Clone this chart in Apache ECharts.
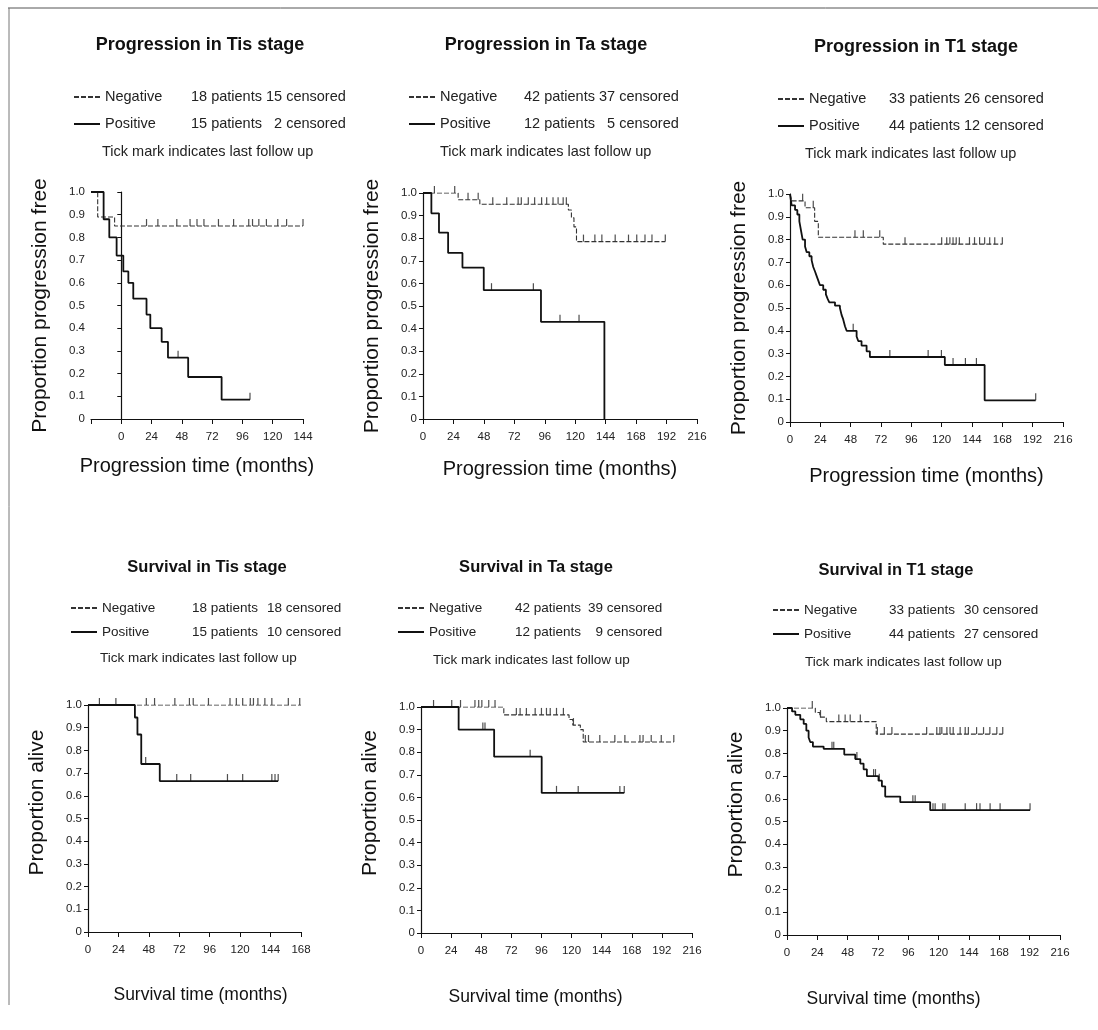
<!DOCTYPE html>
<html>
<head>
<meta charset="utf-8">
<script src="https://cdn.jsdelivr.net/npm/echarts@6/dist/echarts.min.js"></script>
<style>
  html, body { margin: 0; background: #fff; }
  #chart { width: 1098px; height: 1030px; }
</style>
</head>
<body>
<div id="chart"></div>
<script>
// ---- data ----
// Kaplan-Meier steps: [months, proportion]; censored: months of last follow up

// Progression, Tis (printed axis starts one tick before 0)
const tisProgRange = [-24, 144];
const tisProgNeg = [[-24, 1], [-18.7, 0.89], [-5.3, 0.85], [144, 0.85]];
const tisProgNegCens = [20, 29, 44, 54.5, 60, 65.5, 77, 89, 101, 104, 109, 115, 124, 131, 144];
const tisProgPos = [[-24, 1], [-14, 0.88], [-9.5, 0.8], [-3.7, 0.72], [1.6, 0.65], [5.6, 0.6], [9.5, 0.53],
  [20, 0.46], [23, 0.4], [32, 0.34], [37, 0.27], [53, 0.185], [79.5, 0.085], [102, 0.085]];
const tisProgPosCens = [45, 102];
const tisProgLegend = [['Negative', '18 patients', '15 censored'], ['Positive', '15 patients', '\u20072 censored']];

// Progression, Ta
const taProgRange = [0, 216];
const taProgNeg = [[0, 1], [27.7, 0.97], [44.8, 0.95], [114.6, 0.925], [117, 0.89], [119, 0.85], [121, 0.785], [191, 0.785]];
const taProgNegCens = [9, 25, 35.5, 43.5, 55, 66, 75, 77.5, 83, 88, 93.5, 97.5, 102.5, 106.5, 110.5, 113,
  126.5, 135.5, 141, 151.5, 162, 168.5, 175, 180.5, 191];
const taProgPos = [[0, 1], [6.6, 0.91], [12.6, 0.825], [19.8, 0.735], [31.1, 0.67], [47.9, 0.57], [93, 0.43], [143, 0]];
const taProgPosCens = [54, 87, 108, 123];
const taProgLegend = [['Negative', '42 patients', '37 censored'], ['Positive', '12 patients', '\u20075 censored']];

// Progression, T1
const t1ProgRange = [0, 216];
const t1ProgNeg = [[0, 1], [1.3, 0.97], [11.9, 0.94], [19.5, 0.88], [22.4, 0.81], [73.8, 0.78], [168, 0.78]];
const t1ProgNegCens = [10, 18.4, 51.4, 58, 71, 91, 120, 124, 126.5, 129, 131.5, 134, 142, 146, 150, 154, 158, 162, 168];
const t1ProgPos = [[0, 1], [1.3, 0.95], [4, 0.93], [5.8, 0.91], [7.4, 0.88], [8.7, 0.84], [10, 0.8], [11.9, 0.77],
  [13.2, 0.745], [15.3, 0.727], [17.1, 0.71], [18.4, 0.68], [19.8, 0.66], [21.1, 0.64], [22.4, 0.62], [23.7, 0.6],
  [26.3, 0.58], [28.4, 0.56], [29.8, 0.54], [31.1, 0.525], [35.6, 0.51], [39.5, 0.5], [40.8, 0.47], [42.1, 0.45],
  [43.5, 0.42], [44.8, 0.4], [52.7, 0.375], [54, 0.355], [56.6, 0.335], [60.6, 0.31], [63.2, 0.285],
  [122.5, 0.25], [154, 0.095], [194.4, 0.095]];
const t1ProgPosCens = [50, 79, 109.3, 119.8, 129, 138.8, 147.5, 194.4];
const t1ProgLegend = [['Negative', '33 patients', '26 censored'], ['Positive', '44 patients', '12 censored']];

// Survival, Tis
const tisSurvRange = [0, 168];
const tisSurvNeg = [[0, 1], [168, 1]];
const tisSurvNegCens = [9, 22, 46, 52.5, 68.5, 80, 83, 95, 112, 117, 122, 128, 130.5, 134, 139.5, 145, 158, 167];
const tisSurvPos = [[0, 1], [37, 0.945], [39, 0.87], [42, 0.74], [56.6, 0.665], [150, 0.665]];
const tisSurvPosCens = [45.5, 70, 81, 110, 122, 145, 147.5, 150];
const tisSurvLegend = [['Negative', '18 patients', '18 censored'], ['Positive', '15 patients', '10 censored']];

// Survival, Ta
const taSurvRange = [0, 216];
const taSurvNeg = [[0, 1], [66, 0.965], [118, 0.945], [121, 0.92], [127, 0.9], [129.3, 0.845], [201.5, 0.845]];
const taSurvNegCens = [10, 24.5, 31.5, 43, 46, 48.5, 54, 59, 76, 79, 84, 91, 96, 100, 103, 108, 113.5, 121.5,
  131, 133.5, 142.5, 154.5, 162.5, 174.5, 177, 183.5, 191.5, 201.5];
const taSurvPos = [[0, 1], [30, 0.9], [58.3, 0.78], [96.2, 0.62], [162, 0.62]];
const taSurvPosCens = [49.3, 51, 87, 108, 125.3, 158.5, 162];
const taSurvLegend = [['Negative', '42 patients', '39 censored'], ['Positive', '12 patients', '\u20079 censored']];

// Survival, T1
const t1SurvRange = [0, 216];
const t1SurvNeg = [[0, 1], [22.4, 0.98], [26, 0.96], [31.1, 0.94], [70.6, 0.885], [170.7, 0.885]];
const t1SurvNegCens = [20, 26.5, 41, 46, 50, 58, 71.5, 77, 83, 110.5, 118.5, 121, 122.5, 126.5, 129, 131.5,
  137, 141, 143.5, 150, 155.5, 160.5, 166, 170.7];
const t1SurvPos = [[0, 1], [4, 0.985], [6.6, 0.97], [10.5, 0.95], [13.2, 0.93], [15.3, 0.9], [17.1, 0.87],
  [18.4, 0.85], [20.5, 0.83], [29, 0.82], [45.3, 0.795], [54, 0.775], [58, 0.755], [60.6, 0.73], [63.2, 0.7],
  [72.4, 0.68], [75.1, 0.655], [77.7, 0.61], [89.6, 0.585], [113.3, 0.55], [192.3, 0.55]];
const t1SurvPosCens = [35.6, 37, 55.3, 68.5, 70, 73, 99.6, 101.4, 115.5, 117.2, 123.3, 125, 141, 150, 152.7,
  160.7, 168.6, 192.3];
const t1SurvLegend = [['Negative', '33 patients', '30 censored'], ['Positive', '44 patients', '27 censored']];

const yTickStep = 0.1;
const xTickStep = 24;

// ---- layout ----
const FONT = '"Liberation Sans", Arial, sans-serif';

// top row uses the larger type, the survival row is set smaller/condensed in the scan
const panels = [
  { id: 'tisProg', title: 'Progression in Tis stage', range: tisProgRange, neg: tisProgNeg, negCens: tisProgNegCens,
    pos: tisProgPos, posCens: tisProgPosCens, legend: tisProgLegend,
    grid: [91, 192, 212, 227], titleAt: [200, 36], legendAt: [73, 89], cols: [86, 75], tickAt: [102, 144],
    yName: 'Proportion progression free', xName: 'Progression time (months)', xGap: 37, xPad: 0, yPad: 0,
    titleSize: 18, textSize: 14.5, xNameSize: 20 },
  { id: 'taProg', title: 'Progression in Ta stage', range: taProgRange, neg: taProgNeg, negCens: taProgNegCens,
    pos: taProgPos, posCens: taProgPosCens, legend: taProgLegend,
    grid: [423, 193, 274, 226], titleAt: [546, 36], legendAt: [408, 89], cols: [84, 75], tickAt: [440, 144],
    yName: 'Proportion progression free', xName: 'Progression time (months)', xGap: 40, xPad: 0, yPad: 0,
    titleSize: 18, textSize: 14.5, xNameSize: 20 },
  { id: 't1Prog', title: 'Progression in T1 stage', range: t1ProgRange, neg: t1ProgNeg, negCens: t1ProgNegCens,
    pos: t1ProgPos, posCens: t1ProgPosCens, legend: t1ProgLegend,
    grid: [790, 194, 273, 228], titleAt: [916, 38], legendAt: [777, 91], cols: [80, 75], tickAt: [805, 146],
    yName: 'Proportion progression free', xName: 'Progression time (months)', xGap: 44, xPad: 0, yPad: 0,
    titleSize: 18, textSize: 14.5, xNameSize: 20 },
  { id: 'tisSurv', title: 'Survival in Tis stage', range: tisSurvRange, neg: tisSurvNeg, negCens: tisSurvNegCens,
    pos: tisSurvPos, posCens: tisSurvPosCens, legend: tisSurvLegend,
    grid: [88, 705, 213, 227], titleAt: [207, 559], legendAt: [70, 600], cols: [90, 75], tickAt: [100, 651],
    yName: 'Proportion alive', xName: 'Survival time (months)', xGap: 54, xPad: 12, yPad: 32,
    titleSize: 16.5, textSize: 13.5, xNameSize: 17.5 },
  { id: 'taSurv', title: 'Survival in Ta stage', range: taSurvRange, neg: taSurvNeg, negCens: taSurvNegCens,
    pos: taSurvPos, posCens: taSurvPosCens, legend: taSurvLegend,
    grid: [421, 707, 271, 226], titleAt: [536, 559], legendAt: [397, 600], cols: [86, 73], tickAt: [433, 653],
    yName: 'Proportion alive', xName: 'Survival time (months)', xGap: 55, xPad: -42, yPad: 34,
    titleSize: 16.5, textSize: 13.5, xNameSize: 17.5 },
  { id: 't1Surv', title: 'Survival in T1 stage', range: t1SurvRange, neg: t1SurvNeg, negCens: t1SurvNegCens,
    pos: t1SurvPos, posCens: t1SurvPosCens, legend: t1SurvLegend,
    grid: [787, 708, 273, 227], titleAt: [896, 562], legendAt: [772, 602], cols: [85, 75], tickAt: [805, 655],
    yName: 'Proportion alive', xName: 'Survival time (months)', xGap: 55, xPad: -60, yPad: 34,
    titleSize: 16.5, textSize: 13.5, xNameSize: 17.5 }
];

// proportion of a step curve at a given time (censor ticks sit on their curve)
function levelAt(curve, t) {
  let v = curve[0][1];
  for (const p of curve) { if (p[0] <= t) v = p[1]; }
  return v;
}

const grids = [], xAxes = [], yAxes = [], series = [], titles = [], legends = [];
const legendText = {};

panels.forEach((p, i) => {
  const [gl, gt, gw, gh] = p.grid;
  grids.push({ left: gl, top: gt, width: gw, height: gh });

  xAxes.push({
    gridIndex: i, type: 'value', min: p.range[0], max: p.range[1], interval: xTickStep,
    name: p.xName, nameLocation: 'middle', nameGap: p.xGap,
    nameTextStyle: {
      fontFamily: FONT, fontSize: p.xNameSize, color: '#111',
      padding: p.xPad >= 0 ? [0, 0, 0, p.xPad] : [0, -p.xPad, 0, 0]
    },
    axisLine: { lineStyle: { color: '#111', width: 1.2 } },
    axisTick: { length: 5, lineStyle: { color: '#111' } },
    axisLabel: {
      margin: 12, fontFamily: FONT, fontSize: 11.5, color: '#222',
      formatter: v => (v < 0 ? '' : String(v))
    },
    splitLine: { show: false }
  });

  yAxes.push({
    gridIndex: i, type: 'value', min: 0, max: 1, interval: yTickStep,
    name: p.yName, nameLocation: 'middle', nameGap: 40,
    nameTextStyle: { fontFamily: FONT, fontSize: 21, color: '#111', padding: [0, 0, 0, p.yPad] },
    axisLine: { lineStyle: { color: '#111', width: 1.2 } },
    axisTick: { length: 4, lineStyle: { color: '#111' } },
    axisLabel: {
      margin: 6, fontFamily: FONT, fontSize: 11.5, color: '#222',
      formatter: v => (v === 0 ? '0' : v.toFixed(1))
    },
    splitLine: { show: false }
  });

  const negName = p.id + ' Negative';
  const posName = p.id + ' Positive';
  legendText[negName] = p.legend[0];
  legendText[posName] = p.legend[1];

  series.push({
    type: 'line', name: negName, xAxisIndex: i, yAxisIndex: i, data: p.neg, step: 'end',
    symbol: 'none', silent: true,
    lineStyle: { color: '#333', width: 1.1, type: [5, 2] }, itemStyle: { color: '#333' }
  });
  series.push({
    type: 'line', name: posName, xAxisIndex: i, yAxisIndex: i, data: p.pos, step: 'end',
    symbol: 'none', silent: true,
    lineStyle: { color: '#111', width: 1.8 }, itemStyle: { color: '#111' }
  });
  [[p.negCens, p.neg], [p.posCens, p.pos]].forEach(([cens, curve]) => {
    series.push({
      type: 'scatter', xAxisIndex: i, yAxisIndex: i, silent: true,
      data: cens.map(t => [t, levelAt(curve, t)]),
      symbol: 'rect', symbolSize: [1.2, 7], symbolOffset: [0, -3.5],
      itemStyle: { color: '#222' }
    });
  });

  titles.push({
    text: p.title, left: p.titleAt[0], top: p.titleAt[1], padding: 0, textAlign: 'center',
    textStyle: { fontFamily: FONT, fontSize: p.titleSize, fontWeight: 'bold', color: '#111' }
  });
  titles.push({
    text: 'Tick mark indicates last follow up', left: p.tickAt[0], top: p.tickAt[1], padding: 0,
    textStyle: { fontFamily: FONT, fontSize: p.textSize, fontWeight: 'normal', color: '#222' }
  });

  legends.push({
    left: p.legendAt[0], top: p.legendAt[1], orient: 'vertical', padding: 0,
    itemWidth: 26, itemHeight: 16, itemGap: i < 3 ? 11 : 8, selectedMode: false,
    itemStyle: { opacity: 0 },
    data: [negName, posName],
    formatter: name => {
      const t = legendText[name];
      return '{a|' + t[0] + '}{b|' + t[1] + '}{c|' + t[2] + '}';
    },
    textStyle: {
      fontFamily: FONT, fontSize: p.textSize, color: '#222', lineHeight: 16,
      rich: {
        a: { width: p.cols[0], fontFamily: FONT, fontSize: p.textSize },
        b: { width: p.cols[1], fontFamily: FONT, fontSize: p.textSize },
        c: { fontFamily: FONT, fontSize: p.textSize }
      }
    }
  });
});

const chart = echarts.init(document.getElementById('chart'), null, { renderer: 'canvas' });
chart.setOption({
  backgroundColor: '#fff',
  animation: false,
  title: titles,
  legend: legends,
  grid: grids,
  xAxis: xAxes,
  yAxis: yAxes,
  series: series,
  // edge of the scanned page
  graphic: [
    { type: 'line', shape: { x1: 8, y1: 8, x2: 1098, y2: 8 }, style: { stroke: '#555', lineWidth: 1 }, silent: true },
    { type: 'line', shape: { x1: 9, y1: 8, x2: 9, y2: 1005 }, style: { stroke: '#777', lineWidth: 1 }, silent: true }
  ]
});
</script>
</body>
</html>
